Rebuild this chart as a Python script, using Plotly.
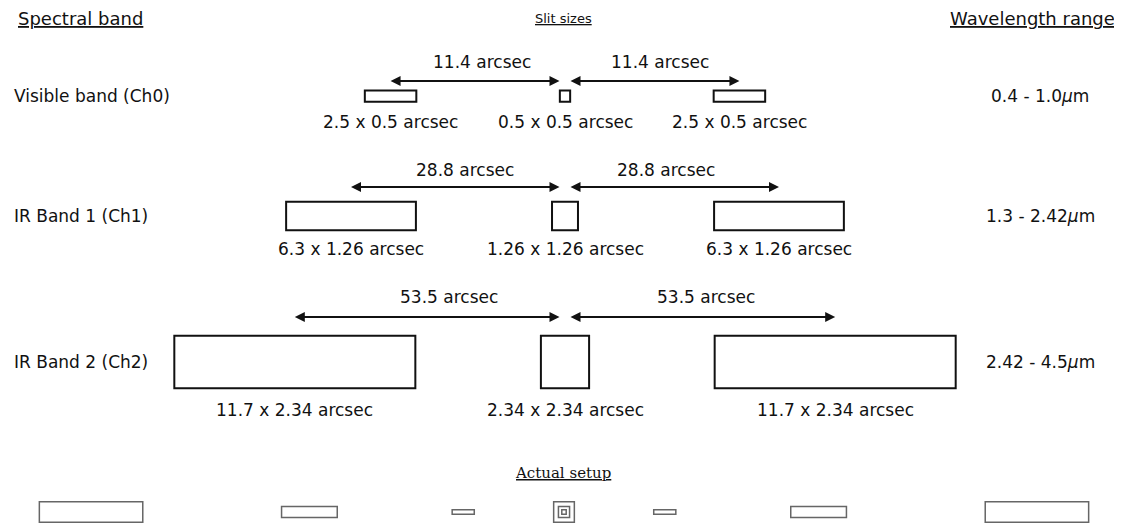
import plotly.graph_objects as go

W, H = 1122, 525
PAGE_MARGIN = 8  # default body margin of the html page

# ---------------- data ----------------
bands = ["Visible band (Ch0)", "IR Band 1 (Ch1)", "IR Band 2 (Ch2)"]
wl_ranges = ["0.4 - 1.0", "1.3 - 2.42", "2.42 - 4.5"]
slit_long = [2.5, 6.3, 11.7]      # arcsec
slit_short = [0.5, 1.26, 2.34]    # arcsec
slit_offset = [11.4, 28.8, 53.5]  # arcsec

# ---------------- layout params (pixels) ----------------
cx = 565
sx, sy = 20.6, 22.5
off_scale = [15.3, 7.43, 5.05]
row_y = [96, 216, 362]
arrow_y = [81, 187, 317]
arrow_lab_y = [62, 170, 297]
arrow_lab_dx = [(6, 6), (9, -8), (21, 4)]  # small nudges of the arrow labels
size_lab_y = [122, 249, 410]
arrow_gap = 4

act_cx, act_cy, act_scale = 564, 512, 8.84

FONT = "DejaVu Sans"
TXT = "#111111"

fig = go.Figure()
shapes = []
ann = []


def fmt(v):
    return f"{v:g}"


def text(x, y, s, size=17, xanchor="center", family=FONT):
    ann.append(dict(x=x, y=y, xref="x", yref="y", text=s, showarrow=False,
                    xanchor=xanchor, yanchor="middle",
                    font=dict(family=family, size=size, color=TXT)))


# headers
text(16, 18, "<u>Spectral band</u>", size=18, xanchor="left")
text(563, 18, "<u>Slit sizes</u>", size=13)
text(1117, 18, "<u>Wavelength range</u>", size=18, xanchor="right")

for i, band in enumerate(bands):
    L, S, off = slit_long[i], slit_short[i], slit_offset[i]
    y0 = row_y[i]
    d = off * off_scale[i]
    centers = [cx - d, cx, cx + d]
    widths = [L * sx, S * sx, L * sx]
    labels = [f"{fmt(L)} x {fmt(S)} arcsec", f"{fmt(S)} x {fmt(S)} arcsec",
              f"{fmt(L)} x {fmt(S)} arcsec"]
    for c, w, lab in zip(centers, widths, labels):
        shapes.append(dict(type="rect", xref="x", yref="y",
                           x0=c - w / 2, x1=c + w / 2,
                           y0=y0 - S * sy / 2, y1=y0 + S * sy / 2,
                           line=dict(color="#111111", width=2),
                           fillcolor="rgba(0,0,0,0)"))
        text(c, size_lab_y[i], lab)
    # arrows
    for k, sign in enumerate((-1, 1)):
        ann.append(dict(x=cx + sign * d, y=arrow_y[i],
                        ax=cx + sign * arrow_gap, ay=arrow_y[i],
                        xref="x", yref="y", axref="x", ayref="y",
                        text="", showarrow=True, arrowhead=2, startarrowhead=2,
                        arrowside="end+start", arrowsize=1, arrowwidth=2,
                        arrowcolor="#111111", standoff=0, startstandoff=0))
        text(cx + sign * (d + arrow_gap) / 2 + arrow_lab_dx[i][k], arrow_lab_y[i],
             f"{fmt(off)} arcsec")
    text(12, y0, band, xanchor="left")
    text(1040, y0, f"{wl_ranges[i]}<i>μ</i>m")

# actual setup
text(563, 473, "<u>Actual setup</u>", size=15, family="DejaVu Serif")
gray = dict(color="#666666", width=1.5)
for i in range(3):
    L, S, off = slit_long[i], slit_short[i], slit_offset[i]
    for sign in (-1, 1):
        c = act_cx + sign * off * act_scale
        shapes.append(dict(type="rect", xref="x", yref="y",
                           x0=c - L * act_scale / 2, x1=c + L * act_scale / 2,
                           y0=act_cy - S * act_scale / 2, y1=act_cy + S * act_scale / 2,
                           line=gray, fillcolor="rgba(0,0,0,0)"))
    shapes.append(dict(type="rect", xref="x", yref="y",
                       x0=act_cx - S * act_scale / 2, x1=act_cx + S * act_scale / 2,
                       y0=act_cy - S * act_scale / 2, y1=act_cy + S * act_scale / 2,
                       line=gray, fillcolor="rgba(0,0,0,0)"))

m = PAGE_MARGIN
fig.update_layout(
    width=W, height=H, margin=dict(l=0, r=0, t=0, b=0),
    paper_bgcolor="white", plot_bgcolor="white",
    xaxis=dict(range=[m, W + m], visible=False, fixedrange=True),
    yaxis=dict(range=[H + m, m], visible=False, fixedrange=True),
    shapes=shapes, annotations=ann, showlegend=False,
)
fig.write_html("out.html")
